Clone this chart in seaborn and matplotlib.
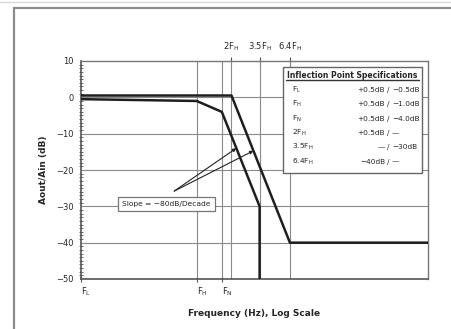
import numpy as np
import pandas as pd
import matplotlib
matplotlib.use("Agg")
import matplotlib.pyplot as plt
from matplotlib.patches import Rectangle
from matplotlib.lines import Line2D
import seaborn as sns

# ---- data (frequencies normalised to F_H = 1) ----
upper_freq = [0.1, 2.0, 6.4, 100.0]
upper_gain = [0.5, 0.5, -40.0, -40.0]
lower_freq = [0.1, 1.0, 1.65, 3.5, 3.5]
lower_gain = [-0.5, -1.0, -4.0, -30.0, -50.0]

grid_freqs = [1.0, 1.65, 2.0, 3.5, 6.4]
bottom_tick_freqs = [0.1, 1.0, 1.65]
bottom_tick_labels = [r"F$_\mathregular{L}$", r"F$_\mathregular{H}$", r"F$_\mathregular{N}$"]
top_tick_freqs = [2.0, 3.5, 6.4]
top_tick_labels = [r"2F$_\mathregular{H}$", r"3.5F$_\mathregular{H}$", r"6.4F$_\mathregular{H}$"]
y_ticks = [10, 0, -10, -20, -30, -40, -50]

table_title = "Inflection Point Specifications"
table_points = [r"F$_\mathregular{L}$", r"F$_\mathregular{H}$", r"F$_\mathregular{N}$",
                r"2F$_\mathregular{H}$", r"3.5F$_\mathregular{H}$", r"6.4F$_\mathregular{H}$"]
table_upper = ["+0.5dB", "+0.5dB", "+0.5dB", "+0.5dB", "\u2014", "\u221240dB"]
table_lower = ["\u22120.5dB", "\u22121.0dB", "\u22124.0dB", "\u2014", "\u221230dB", "\u2014"]

slope_text = "Slope = \u221280dB/Decade"
arrow_targets_f = [2.2, 3.1]
arrow_targets_g = [-14.0, -14.7]

sns.set_style("white")
plt.rcParams["font.family"] = ["DejaVu Sans"]

df = pd.concat([
    pd.DataFrame({"freq": upper_freq, "gain": upper_gain, "curve": "upper"}),
    pd.DataFrame({"freq": lower_freq, "gain": lower_gain, "curve": "lower"}),
], ignore_index=True)

fig = plt.figure(figsize=(4.52, 3.29), dpi=100)
ax = fig.add_axes([81/452, 1 - 279/329, (428-81)/452, (279-61)/329])

# outer frame
fig.patches.append(Rectangle((14/452, -0.2), 1.5, 1.2 - 8/329, transform=fig.transFigure,
                             fill=False, edgecolor="#8c8c8c", lw=1.6, zorder=0))
fig.lines.append(Line2D([0, 1], [1 - 2/329, 1 - 2/329], transform=fig.transFigure,
                        color="#d8d8d8", lw=1.0))

ax.set_xscale("log")
ax.set_xlim(0.1, 100)
ax.set_ylim(-50, 10)

# grid
for f in grid_freqs:
    ax.axvline(f, color="#8a8a8a", lw=0.8, zorder=1)
for y in y_ticks[1:-1]:
    ax.axhline(y, color="#8a8a8a", lw=0.8, zorder=1)

for name, sub in df.groupby("curve", sort=False):
    sns.lineplot(data=sub, x="freq", y="gain", sort=False, estimator=None,
                 color="#1e1e1e", lw=1.8, ax=ax, legend=False, zorder=3)

ax.set_yticks(y_ticks)
ax.set_yticklabels([str(v).replace("-", "\u2212") for v in y_ticks], fontsize=6)
ax.yaxis.set_minor_locator(matplotlib.ticker.MultipleLocator(1))
ax.tick_params(axis="y", which="major", direction="inout", length=6, width=0.8, color="#555555", pad=2)
ax.tick_params(axis="y", which="minor", left=True, direction="inout", length=3, width=0.6, color="#555555")

ax.set_xticks(bottom_tick_freqs)
ax.set_xticklabels(bottom_tick_labels, fontsize=6)
ax.xaxis.set_minor_locator(matplotlib.ticker.NullLocator())
ax.tick_params(axis="x", which="major", bottom=True, direction="inout", length=5, width=0.8,
               color="#555555", pad=2)
for lbl in ax.get_xticklabels():
    lbl.set_horizontalalignment("left")

sec = ax.secondary_xaxis("top")
sec.set_xticks(top_tick_freqs)
sec.set_xticklabels(top_tick_labels, fontsize=6)
sec.xaxis.set_minor_locator(matplotlib.ticker.NullLocator())
sec.tick_params(axis="x", direction="inout", length=6, width=0.8, color="#555555", pad=3)
for s in sec.spines.values():
    s.set_visible(False)

ax.set_xlabel("Frequency (Hz), Log Scale", fontsize=6.5, fontweight="bold", labelpad=8)
ax.set_ylabel("Aout/Ain (dB)", fontsize=6.5, fontweight="bold", labelpad=6)

for side in ["left", "bottom"]:
    ax.spines[side].set_color("#555555")
    ax.spines[side].set_linewidth(1.2)
for side in ["top", "right"]:
    ax.spines[side].set_color("#777777")
    ax.spines[side].set_linewidth(1.0)

# table box
bx0, bx1, by0, by1 = 0.582, 0.983, 0.486, 0.972
ax.add_patch(Rectangle((bx0, by0), bx1 - bx0, by1 - by0, transform=ax.transAxes,
                       facecolor="white", edgecolor="#666666", lw=1.0, zorder=5))
ax.text((bx0 + bx1) / 2, 0.935, table_title, transform=ax.transAxes, fontsize=5.5,
        fontweight="bold", ha="center", va="center", zorder=6)
ax.plot([bx0 + 0.008, bx1 - 0.008], [0.912, 0.912], transform=ax.transAxes,
        color="#333333", lw=1.0, zorder=6)
for i, (p, u, l) in enumerate(zip(table_points, table_upper, table_lower)):
    yy = 0.868 - i * 0.066
    ax.text(0.608, yy, p, transform=ax.transAxes, fontsize=5.3, ha="left", va="center", zorder=6)
    ax.text(0.876, yy, u, transform=ax.transAxes, fontsize=5.3, ha="right", va="center", zorder=6)
    ax.text(0.886, yy, "/", transform=ax.transAxes, fontsize=5.3, ha="center", va="center", zorder=6)
    ax.text(0.896, yy, l, transform=ax.transAxes, fontsize=5.3, ha="left", va="center", zorder=6)

# slope annotation
ax.text(0.548, -29.3, slope_text, fontsize=5.4, ha="center", va="center", zorder=6,
        bbox=dict(boxstyle="square,pad=0.55", facecolor="white", edgecolor="#777777", lw=0.9))
for fx, gy in zip(arrow_targets_f, arrow_targets_g):
    ax.annotate("", xy=(fx, gy), xytext=(0.64, -25.8), zorder=6,
                arrowprops=dict(arrowstyle="-|>", color="#222222", lw=0.8,
                                mutation_scale=5, shrinkA=0, shrinkB=0))

fig.savefig("out.png", dpi=100)
